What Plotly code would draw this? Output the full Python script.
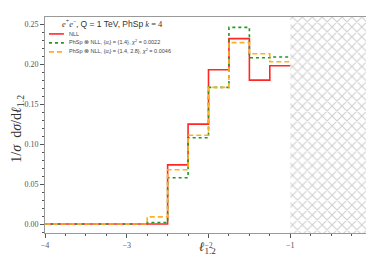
import plotly.graph_objects as go

edges = [-4.0, -3.75, -3.5, -3.25, -3.0, -2.75, -2.5, -2.25, -2.0, -1.75, -1.5, -1.25, -1.0]
nll = [0, 0, 0, 0, 0, 0, 0.074, 0.125, 0.193, 0.232, 0.180, 0.198]
phsp_14 = [0, 0, 0, 0, 0, 0.002, 0.058, 0.108, 0.171, 0.246, 0.208, 0.209]
phsp_14_28 = [0, 0, 0, 0, 0, 0.009, 0.068, 0.111, 0.171, 0.227, 0.213, 0.203]
hatch_x = [-1.0, 0.0]
xticks = [-4, -3, -2, -1, 0]
yticks = [0.00, 0.05, 0.10, 0.15, 0.20, 0.25]

names = ["NLL",
         "PhSp ⊗ NLL, {<i>α<sub>i</sub></i>} = {1.4}, <i>χ</i><sup>2</sup> = 0.0022",
         "PhSp ⊗ NLL, {<i>α<sub>i</sub></i>} = {1.4, 2.8}, <i>χ</i><sup>2</sup> = 0.0046"]
colors = ["rgba(255,0,0,0.85)", "#1f9a1f", "#ffb020"]
dashes = ["solid", "dot", "5px,3px"]
series = [nll, phsp_14, phsp_14_28]

YMIN, YMAX = -0.0112, 0.259
fig = go.Figure()
fig.add_trace(go.Scatter(
    x=[hatch_x[0], hatch_x[1], hatch_x[1], hatch_x[0], hatch_x[0]],
    y=[YMIN - 0.01, YMIN - 0.01, YMAX + 0.01, YMAX + 0.01, YMIN - 0.01],
    fill="toself", mode="lines", line=dict(width=0),
    fillcolor="white",
    fillpattern=dict(shape="x", fgcolor="#a0a0a0", bgcolor="white", size=7, solidity=0.3),
    showlegend=False, hoverinfo="skip"))

for vals, c, d, n in zip(series, colors, dashes, names):
    fig.add_trace(go.Scatter(
        x=edges, y=vals + [vals[-1]], mode="lines",
        line=dict(shape="hv", color=c, dash=d, width=1.6),
        name=n, showlegend=False))

W, H = 374, 256
L, R, T, B = 37, 8, 8, 31
pw, ph = W - L - R, H - T - B

def px(x):
    return (x - L) / pw

def py(y):
    return (H - B - y) / ph

serif = "Liberation Serif"
shapes = []
annotations = [dict(x=px(52), y=py(15), xref="paper", yref="paper", xanchor="left",
                    yanchor="middle", showarrow=False,
                    text="<i>e</i><sup>+</sup><i>e</i><sup>−</sup>, <span style='font-family:Liberation Sans'>Q = 1 TeV, PhSp</span> <i>k</i> = 4",
                    font=dict(family=serif, size=8.5, color="#333")),
               dict(x=px(200), y=py(240), xref="paper", yref="paper", xanchor="center",
                    yanchor="middle", showarrow=False, text="<i>ℓ</i><sub>1.2</sub>",
                    font=dict(family=serif, size=13, color="#333")),
               dict(x=px(9), y=py(120), xref="paper", yref="paper", xanchor="center",
                    yanchor="middle", showarrow=False, textangle=-90,
                    text="1/<i>σ</i>  d<i>σ</i>/d<i>ℓ</i><sub>1.2</sub>",
                    font=dict(family=serif, size=14, color="#333"))]
for i, (c, d, n) in enumerate(zip(colors, dashes, names)):
    yy = 25 + 9 * i
    shapes.append(dict(type="line", xref="paper", yref="paper", x0=px(41), x1=px(56),
                       y0=py(yy), y1=py(yy), line=dict(color=c, dash=d, width=1.6)))
    annotations.append(dict(x=px(59), y=py(yy), xref="paper", yref="paper", xanchor="left",
                            yanchor="middle", showarrow=False, text=n,
                            font=dict(family="Liberation Sans", size=5.5, color="#444")))

fig.update_layout(
    width=W, height=H, margin=dict(l=L, r=R, t=T, b=B),
    plot_bgcolor="white", paper_bgcolor="white", showlegend=False,
    shapes=shapes, annotations=annotations,
    xaxis=dict(range=[-4, 0], tickvals=xticks, ticktext=["−4", "−3", "−2", "−1", "0"],
               ticks="outside", ticklen=4, tickcolor="#555", showline=True, mirror=True,
               linecolor="#999", linewidth=1, showgrid=False, zeroline=False,
               tickfont=dict(family=serif, size=8, color="#555"),
               minor=dict(dtick=0.25, ticks="outside", ticklen=2, tickcolor="#555")),
    yaxis=dict(range=[YMIN, YMAX], tickvals=yticks, ticktext=["0.00", "0.05", "0.10", "0.15", "0.20", "0.25"],
               ticks="outside", ticklen=4, tickcolor="#555", showline=True, mirror=True,
               linecolor="#999", linewidth=1, showgrid=False, zeroline=False,
               tickfont=dict(family=serif, size=8, color="#555"),
               minor=dict(dtick=0.01, tick0=0, ticks="outside", ticklen=2, tickcolor="#555")),
)
fig.write_html("out.html")
